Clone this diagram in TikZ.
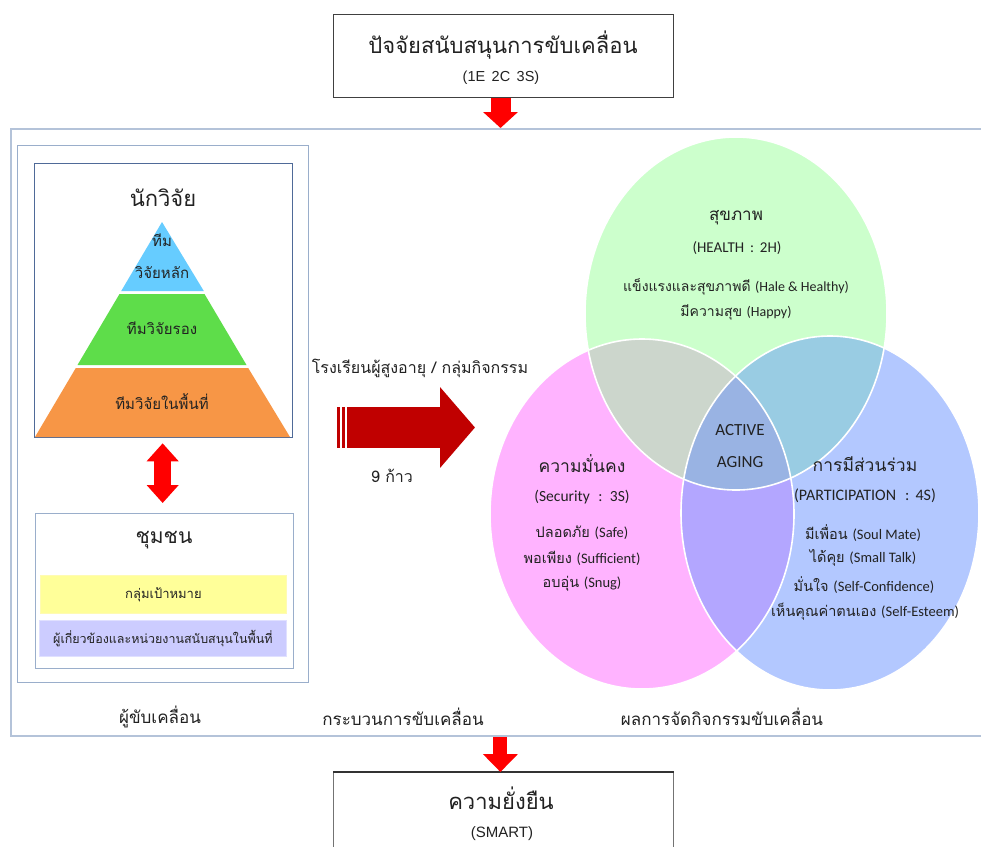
\documentclass[tikz,border=0pt]{standalone}
\usepackage{fontspec}
\newfontfamily\thf[Script=Thai]{Loma}
\newfontfamily\laf{Carlito}
\newfontfamily\arf{Liberation Sans}
\usetikzlibrary{arrows.meta,calc}
\definecolor{outerc}{HTML}{B4C3D9}
\definecolor{panelc}{HTML}{9AAECB}
\definecolor{resc}{HTML}{4F6A98}
\definecolor{pyblue}{HTML}{66CCFF}
\definecolor{pygreen}{HTML}{5EDD4A}
\definecolor{pyorange}{HTML}{F79646}
\definecolor{yelbox}{HTML}{FFFF99}
\definecolor{lavbox}{HTML}{CCCCFF}
\definecolor{darkred}{HTML}{C00000}
\definecolor{vgreen}{HTML}{CCFFCC}
\definecolor{vpink}{HTML}{FFB3FF}
\definecolor{vblue}{HTML}{B3C8FF}
\definecolor{vgp}{HTML}{CCD6CC}
\definecolor{vgb}{HTML}{99CCE3}
\definecolor{vpb}{HTML}{B3A6FF}
\definecolor{vall}{HTML}{99B3E3}
\definecolor{txt}{HTML}{222222}
\newcommand{\fs}[1]{\fontsize{#1}{#1}\selectfont}
\begin{document}
\begin{tikzpicture}[x=1pt,y=-1pt,
  box/.style={anchor=north west, inner sep=0pt},
  lbl/.style={inner sep=0pt, text=txt}
]
\useasboundingbox (0,0) rectangle (981,846);
\fill[white] (0,0) rectangle (981,846);

% ---------- top box ----------
\node[box, draw=black!75, line width=1pt, minimum width=340pt, minimum height=83pt] (topbox) at (333,14) {};
\node[lbl, font=\thf\fs{22}] (toptitle) at (503,45) {ปัจจัยสนับสนุนการขับเคลื่อน};
\node[lbl, font=\arf\fs{14.5}] (topsub) at (501,78) {(1E\, 2C\, 3S)};

% ---------- outer frame ----------
\node[box, draw=outerc, line width=2pt, minimum width=985pt, minimum height=607pt] (outer) at (10,128) {};

\draw[red, line width=20pt, -{Triangle[width=34pt,length=16pt]}]
  ($(topbox.south)+(-3,0)$) -- ($(topbox.south |- outer.north)+(-3,0)$);

% ---------- left panel ----------
\node[box, draw=panelc, line width=1.3pt, minimum width=291pt, minimum height=537pt] (leftpanel) at (17,145) {};
\node[box, draw=resc, line width=1.3pt, minimum width=258pt, minimum height=274pt] (resbox) at (34,163) {};
\node[lbl, font=\thf\fs{22}] (restitle) at (163,198) {นักวิจัย};

% pyramid
\fill[pyblue] (162,222) -- (203.8,291) -- (121.2,291) -- cycle;
\fill[pygreen] (119.5,294) -- (204.5,294) -- (246.5,365) -- (77.5,365) -- cycle;
\fill[pyorange] (75.8,368) -- (248.2,368) -- (290,437) -- (35,437) -- cycle;
\node[lbl, font=\thf\fs{15}] (py1a) at (162,240) {ทีม};
\node[lbl, font=\thf\fs{15}] (py1b) at (162,273) {วิจัยหลัก};
\node[lbl, font=\thf\fs{15}] (py2) at (162,328) {ทีมวิจัยรอง};
\node[lbl, font=\thf\fs{15}] (py3) at (162,402) {ทีมวิจัยในพื้นที่};

% community box
\node[box, draw=panelc, line width=1.3pt, minimum width=258pt, minimum height=155pt] (combox) at (35,513) {};
\node[lbl, font=\thf\fs{21}] (comtitle) at (164,540) {ชุมชน};
\node[box, fill=yelbox, draw=yellow!30!white, line width=0.8pt, minimum width=246pt, minimum height=38pt] (target) at (40,575) {};
\node[lbl, font=\thf\fs{13}] (targettxt) at (target.center) {กลุ่มเป้าหมาย};
\node[box, fill=lavbox, draw=lavbox!60!white, line width=0.8pt, minimum width=247pt, minimum height=36pt] (stake) at (39,620) {};
\node[lbl, font=\thf\fs{12.5}] (staketxt) at (stake.center) {ผู้เกี่ยวข้องและหน่วยงานสนับสนุนในพื้นที่};

\draw[red, line width=17pt, {Triangle[width=31pt,length=18pt]}-{Triangle[width=31pt,length=18pt]}]
  ($(resbox.south)+(-1,5)$) -- ($(combox.north)+(-2,-10)$);

% ---------- middle: process ----------
\node[lbl, font=\thf\fs{16}] (school) at (420,368) {โรงเรียนผู้สูงอายุ / กลุ่มกิจกรรม};
\fill[darkred] (337.3,406.7) rectangle (340.3,448.3);
\fill[darkred] (342,406.7) rectangle (345.3,448.3);
\coordinate (bigA) at (347.3,427.5);
\coordinate (bigB) at (475,427.5);
\draw[darkred, line width=41.6pt, -{Triangle[width=79pt,length=35pt]}] (bigA) -- (bigB);
\node[lbl, font=\thf\fs{16}] (steps) at (392,476) {9 ก้าว};

% ---------- Venn ----------
\def\GE{(736,313.5) ellipse [x radius=151pt, y radius=176.5pt]}
\def\PE{(642,514) ellipse [x radius=152pt, y radius=175pt]}
\def\BE{(830,513) ellipse [x radius=149pt, y radius=177pt]}
\fill[vgreen] \GE;
\fill[vpink] \PE;
\fill[vblue] \BE;
\begin{scope}
  \clip \GE;
  \fill[vgp] \PE;
  \fill[vgb] \BE;
  \clip \PE;
  \fill[vall] \BE;
\end{scope}
\begin{scope}
  \clip \PE;
  \clip \BE;
  \fill[vpb] (600,300) rectangle (900,720);
  \clip \GE;
  \fill[vall] (600,300) rectangle (900,720);
\end{scope}
\draw[white, line width=1.6pt] \GE;
\draw[white, line width=1.6pt] \PE;
\draw[white, line width=1.6pt] \BE;

% health texts
\node[lbl, font=\thf\fs{17}] (health) at (736,218) {สุขภาพ};
\node[lbl, font=\laf\fs{15}] (healthsub) at (737,248) {(HEALTH\, :\, 2H)};
\node[lbl, font=\fs{14}] (health1) at (736,287) {{\thf แข็งแรงและสุขภาพดี} {\laf(Hale \& Healthy)}};
\node[lbl, font=\fs{14}] (health2) at (736,312) {{\thf มีความสุข} {\laf(Happy)}};

% security texts
\node[lbl, font=\thf\fs{17.5}] (sec) at (582,464) {ความมั่นคง};
\node[lbl, font=\laf\fs{15.5}] (secsub) at (582,497) {(Security\,\, :\, 3S)};
\node[lbl, font=\fs{14.5}] (sec1) at (582,533) {{\thf ปลอดภัย} {\laf(Safe)}};
\node[lbl, font=\fs{14.5}] (sec2) at (582,558) {{\thf พอเพียง} {\laf(Sufficient)}};
\node[lbl, font=\fs{14.5}] (sec3) at (582,584) {{\thf อบอุ่น} {\laf(Snug)}};

% active aging
\node[lbl, font=\laf\fs{17}] (act1) at (740,430) {ACTIVE};
\node[lbl, font=\laf\fs{17}] (act2) at (740,462) {AGING};

% participation texts
\node[lbl, font=\thf\fs{17.5}] (part) at (865,464) {การมีส่วนร่วม};
\node[lbl, font=\laf\fs{16}] (partsub) at (865,496) {(PARTICIPATION\,\, :\, 4S)};
\node[lbl, font=\fs{14.5}] (part1) at (863,533) {{\thf มีเพื่อน} {\laf(Soul Mate)}};
\node[lbl, font=\fs{14.5}] (part2) at (863,558) {{\thf ได้คุย} {\laf(Small Talk)}};
\node[lbl, font=\fs{14.5}] (part3) at (864,585) {{\thf มั่นใจ} {\laf(Self-Confidence)}};
\node[lbl, font=\fs{14.5}] (part4) at (865,612) {{\thf เห็นคุณค่าตนเอง} {\laf(Self-Esteem)}};

% ---------- bottom labels ----------
\node[lbl, font=\thf\fs{17}] (lab1) at (160,717) {ผู้ขับเคลื่อน};
\node[lbl, font=\thf\fs{17}] (lab2) at (403,717) {กระบวนการขับเคลื่อน};
\node[lbl, font=\thf\fs{17}] (lab3) at (722,717) {ผลการจัดกิจกรรมขับเคลื่อน};

% ---------- bottom box ----------
\node[box, draw=black!55, line width=0.8pt, minimum width=340pt, minimum height=100pt] (botbox) at (333,772) {};
\draw[black!80, line width=2pt] (botbox.north west) -- (botbox.north east);
\draw[red, line width=14pt, -{Triangle[width=34pt,length=18pt]}]
  ($(outer.south -| botbox.north)+(-3,0)$) -- ($(botbox.north)+(-3,0)$);
\node[lbl, font=\thf\fs{22}] (bottitle) at (501,798) {ความยั่งยืน};
\node[lbl, font=\arf\fs{15}] (botsub) at (502,834) {(SMART)};
\end{tikzpicture}
\end{document}
